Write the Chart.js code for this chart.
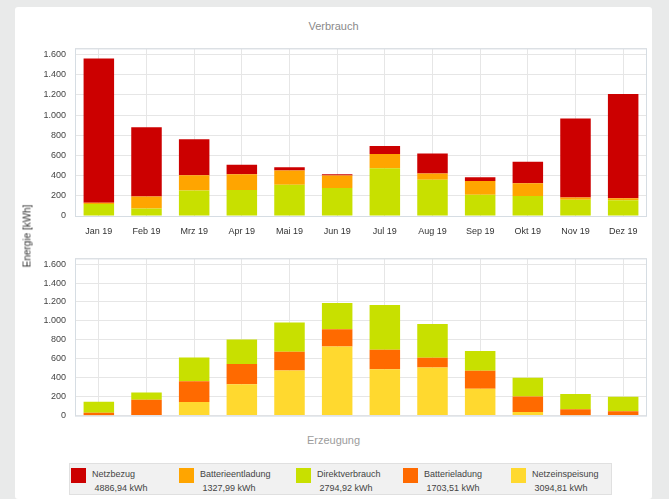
<!DOCTYPE html>
<html lang="de">
<head>
    <meta charset="UTF-8">
    <title>Verbrauch / Erzeugung</title>
    <script src="https://cdn.jsdelivr.net/npm/chart.js"></script>
    <style>
        body { margin: 0; background: #e9eaea; font-family: "Liberation Sans", Arial, sans-serif; }
        #card { position: absolute; left: 15px; top: 7px; width: 637px; height: 492px; background: #fff; border-radius: 3px; }
        .box { position: absolute; left: 15px; width: 637px; }
        .title { position: absolute; width: 637px; left: 15px; text-align: center; font-size: 11px; color: #8a8a8a; }
        #ytitle { position: absolute; left: 27px; top: 236px; font-size: 10px; color: #333;
                  transform: translate(-50%, -50%) rotate(-90deg); white-space: nowrap; }
        #legend { position: absolute; left: 69px; top: 463px; width: 543px; height: 32px;
                  background: #f1f1f1; border: 1px solid #e0e0e0; box-sizing: border-box; }
        .item { position: absolute; top: 3px; font-size: 9px; color: #444; line-height: 14px; }
        .sw { position: absolute; left: 0; top: 1px; width: 15px; height: 15px; }
        .txt { position: absolute; left: 21px; top: 0; white-space: nowrap; }
    </style>
</head>
<body>
    <div id="card"></div>
    <div class="title" style="top:20px;">Verbrauch</div>
    <div class="box" style="top:34px; height:206px;"><canvas id="top"></canvas></div>
    <div class="box" style="top:244px; height:186px;"><canvas id="bottom"></canvas></div>
    <div class="title" style="top:434px; color:#9c9c9c;">Erzeugung</div>
    <div id="ytitle">Energie [kWh]</div>
    <div id="legend"></div>

    <script>
        // Monate
        var months = ['Jan 19', 'Feb 19', 'Mrz 19', 'Apr 19', 'Mai 19', 'Jun 19',
                      'Jul 19', 'Aug 19', 'Sep 19', 'Okt 19', 'Nov 19', 'Dez 19'];

        // Verbrauch (kWh)
        var direktverbrauch   = [118, 75, 252, 258, 310, 278, 473, 358, 210, 197, 160, 155];
        var batterieentladung = [12, 117, 152, 156, 141, 122, 142, 62, 137, 128, 23, 22];
        var netzbezug         = [1430, 688, 356, 94, 32, 14, 79, 199, 38, 212, 783, 1032];

        // Erzeugung (kWh)
        var netzeinspeisung = [5, 0, 143, 330, 476, 730, 489, 508, 283, 38, 5, 0];
        var batterieladung  = [24, 168, 219, 216, 197, 181, 206, 102, 190, 165, 62, 45];

        // y axis ticks
        var yTicks = [0, 200, 400, 600, 800, 1000, 1200, 1400, 1600];
        var yMax = 1660;

        // legend
        var legendNames  = ['Netzbezug', 'Batterieentladung', 'Direktverbrauch', 'Batterieladung', 'Netzeinspeisung'];
        var legendTotals = ['4886,94 kWh', '1327,99 kWh', '2794,92 kWh', '1703,51 kWh', '3094,81 kWh'];
        var colors = {
            netzbezug: '#cc0000',
            batterieentladung: '#ffa500',
            direktverbrauch: '#c8e000',
            batterieladung: '#ff6a00',
            netzeinspeisung: '#ffd92f'
        };
        var legendColors = [colors.netzbezug, colors.batterieentladung, colors.direktverbrauch,
                            colors.batterieladung, colors.netzeinspeisung];
        var legendLeft = [1, 109, 226, 333, 441];

        Chart.defaults.font.family = '"Liberation Sans", Arial, sans-serif';
        Chart.defaults.font.size = 9;
        Chart.defaults.color = '#444';
        Chart.defaults.animation = false;

        function fmt(v) {
            return String(v).replace(/\B(?=(\d{3})+(?!\d))/g, '.');
        }

        // thin frame around the plot area
        var framePlugin = {
            id: 'frame',
            afterDraw: function (chart) {
                var a = chart.chartArea, c = chart.ctx;
                c.save();
                c.strokeStyle = '#d6dde3';
                c.lineWidth = 1;
                c.strokeRect(a.left + 0.5, a.top + 0.5, a.right - a.left - 1, a.bottom - a.top);
                c.restore();
            }
        };

        function makeOptions(showX, xHeight) {
            return {
                responsive: true,
                maintainAspectRatio: false,
                layout: { padding: { top: 6, right: 5, left: 0, bottom: 0 } },
                plugins: { legend: { display: false }, tooltip: { enabled: false } },
                scales: {
                    x: {
                        stacked: true,
                        grid: { offset: false, color: '#e6e6e6', drawTicks: false },
                        border: { display: false },
                        ticks: { display: showX, padding: 10, color: '#333', maxRotation: 0 },
                        afterFit: function (s) { s.height = xHeight; }
                    },
                    y: {
                        stacked: true,
                        min: 0,
                        max: yMax,
                        grid: { color: '#e6e6e6', drawTicks: false },
                        border: { display: false },
                        ticks: {
                            padding: 9,
                            color: '#444',
                            callback: function (v) { return yTicks.indexOf(v) >= 0 ? fmt(v) : ''; }
                        },
                        afterBuildTicks: function (s) {
                            s.ticks = yTicks.concat([yMax]).map(function (v) { return { value: v }; });
                        },
                        afterFit: function (s) { s.width = 60; }
                    }
                }
            };
        }

        function ds(label, data, color) {
            return { label: label, data: data, backgroundColor: color, borderWidth: 0,
                     barPercentage: 0.64, categoryPercentage: 1.0 };
        }

        new Chart(document.getElementById('top').getContext('2d'), {
            type: 'bar',
            data: {
                labels: months,
                datasets: [
                    ds('Direktverbrauch', direktverbrauch, colors.direktverbrauch),
                    ds('Batterieentladung', batterieentladung, colors.batterieentladung),
                    ds('Netzbezug', netzbezug, colors.netzbezug)
                ]
            },
            options: makeOptions(true, 24),
            plugins: [framePlugin]
        });

        new Chart(document.getElementById('bottom').getContext('2d'), {
            type: 'bar',
            data: {
                labels: months,
                datasets: [
                    ds('Netzeinspeisung', netzeinspeisung, colors.netzeinspeisung),
                    ds('Batterieladung', batterieladung, colors.batterieladung),
                    ds('Direktverbrauch', direktverbrauch, colors.direktverbrauch)
                ]
            },
            options: makeOptions(false, 6),
            plugins: [framePlugin]
        });

        // HTML legend with totals
        var legend = document.getElementById('legend');
        legendNames.forEach(function (name, i) {
            var item = document.createElement('div');
            item.className = 'item';
            item.style.left = legendLeft[i] + 'px';
            item.innerHTML = '<div class="sw" style="background:' + legendColors[i] + '"></div>' +
                '<div class="txt">' + name + '<br>&nbsp;' + legendTotals[i] + '</div>';
            legend.appendChild(item);
        });
    </script>
</body>
</html>
